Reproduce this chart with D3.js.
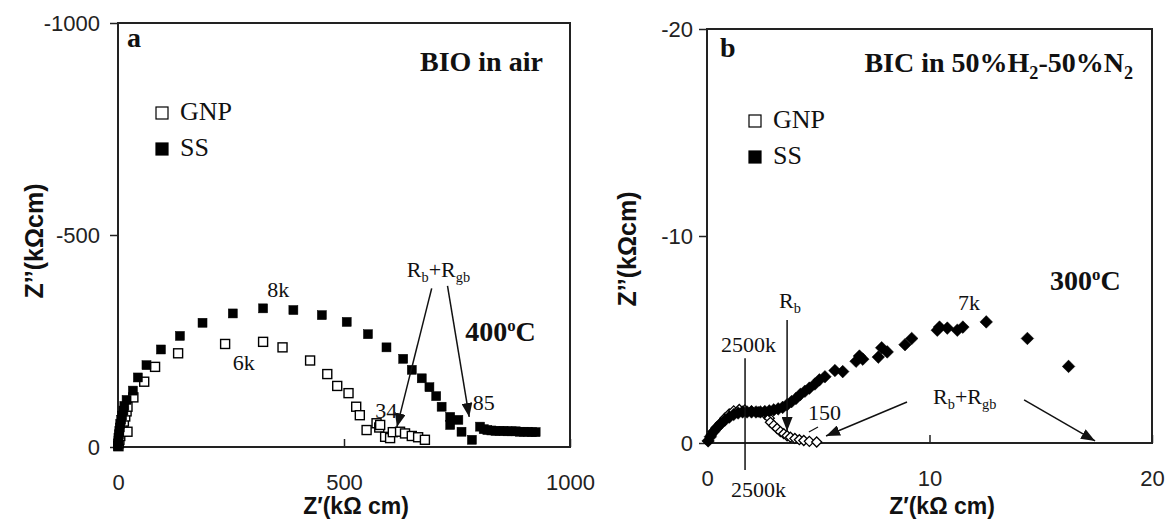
<!DOCTYPE html>
<html>
<head>
    <script src="https://cdnjs.cloudflare.com/ajax/libs/d3/7.8.5/d3.min.js"></script>
    <style>
        body { margin: 0; background: #fff; }
        .tick text { font-family: "Liberation Sans", Arial, sans-serif; font-size: 22px; fill: #222; }
        .tick line { stroke: #222; stroke-width: 1.5; }
        .serif { font-family: "Liberation Serif", "Times New Roman", serif; fill: #111; }
        .title { font-family: "Liberation Sans", Arial, sans-serif; font-weight: bold; fill: #111; }
    </style>
</head>
<body>
    <svg id="chart" width="1168" height="521"></svg>

    <script>
        // ---- panel a: BIO in air, 400 C  (Z' kOhm cm, Z'' kOhm cm) ----
        const aGnp = [
            [1,-2],[2,-9],[3,-17],[5,-26],[7,-36],[10,-47],[13,-60],[16,-72],[19,-84],[21,-95],
            [21,-36],[34,-117],[58,-154],[82,-189],[133,-221],[237,-243],[321,-248],[364,-235],
            [425,-204],[463,-172],[485,-144],[510,-127],[527,-95],[535,-75],[550,-40],[572,-56],
            [578,-46],[580,-52],[591,-24],[602,-21],[608,-35],[624,-36],[635,-32],[650,-26],
            [664,-23],[679,-17]
        ];
        const aSs = [
            [0,-2],[0,-8],[1,-15],[1,-22],[2,-30],[3,-38],[4,-46],[5,-55],[7,-64],[9,-74],
            [12,-86],[14,-97],[19,-111],[33,-133],[44,-164],[63,-193],[95,-230],[137,-262],
            [187,-293],[254,-315],[321,-327],[388,-323],[451,-311],[506,-295],[553,-266],
            [594,-235],[631,-208],[650,-182],[672,-162],[689,-141],[704,-120],[716,-95],
            [735,-71],[735,-52],[753,-64],[760,-36],[783,-17],[801,-48],[809,-42],[817,-40],
            [826,-39],[835,-38],[844,-38],[853,-38],[862,-37],[871,-37],[880,-37],[889,-36],
            [898,-36],[907,-36],[916,-35],[924,-35]
        ];
        const aXTicks = [0, 500, 1000];
        const aYTicks = [0, -500, -1000];

        // ---- panel b: BIC in 50%H2-50%N2, 300 C ----
        const bGnp = [
            [0.05,-0.1],[0.2,-0.4],[0.4,-0.7],[0.6,-0.95],[0.8,-1.2],[1.0,-1.4],[1.2,-1.55],
            [1.45,-1.62],[1.7,-1.6],[2.0,-1.55],[2.3,-1.5],[2.6,-1.4],[2.8,-1.2],[2.85,-1.0],
            [3.0,-0.85],[3.15,-0.7],[3.3,-0.55],[3.45,-0.45],[3.6,-0.35],[3.75,-0.28],
            [3.95,-0.22],[4.15,-0.16],[4.35,-0.12],[4.6,-0.08],[4.93,-0.05]
        ];
        const bSs = [
            [0.05,-0.1],[0.15,-0.3],[0.3,-0.55],[0.45,-0.75],[0.6,-0.9],[0.8,-1.1],[1.0,-1.25],
            [1.2,-1.38],[1.4,-1.45],[1.6,-1.5],[1.8,-1.5],[2.0,-1.5],[2.2,-1.5],[2.4,-1.5],
            [2.6,-1.52],[2.8,-1.55],[3.0,-1.6],[3.2,-1.65],[3.4,-1.72],[3.6,-1.85],[3.8,-2.0],
            [4.0,-2.15],[4.2,-2.35],[4.4,-2.5],[4.6,-2.65],[4.85,-2.85],[5.05,-3.05],[5.3,-3.2],
            [5.75,-3.5],[6.1,-3.45],[6.7,-3.95],[6.85,-4.2],[7.0,-4.05],[7.7,-4.15],[7.85,-4.6],
            [8.1,-4.4],[8.9,-4.75],[9.2,-5.05],[10.35,-5.45],[10.45,-5.6],[10.8,-5.55],
            [11.25,-5.45],[11.5,-5.6],[12.55,-5.85],[14.4,-5.05],[16.25,-3.7]
        ];
        const bXTicks = [0, 10, 20];
        const bYTicks = [0, -10, -20];

        const svg = d3.select("#chart");

        svg.append("defs").append("marker")
            .attr("id", "head")
            .attr("markerUnits", "userSpaceOnUse")
            .attr("markerWidth", 14).attr("markerHeight", 11)
            .attr("refX", 14).attr("refY", 5.5)
            .attr("orient", "auto")
            .append("path")
            .attr("d", "M0,0 L14,5.5 L0,11 Z")
            .attr("fill", "#111");

        function setupPanel(p) {
            const x = d3.scaleLinear().domain(p.xDomain).range(p.xRange);
            const y = d3.scaleLinear().domain(p.yDomain).range(p.yRange);
            const g = svg.append("g");

            // axes
            const ya = g.append("g")
                .attr("transform", `translate(${p.xRange[0]},0)`)
                .call(d3.axisLeft(y).tickValues(p.yTicks).tickSize(8).tickPadding(p.yPad).tickFormat(d => String(d)));
            ya.select(".domain").remove();
            const xa = g.append("g")
                .attr("transform", `translate(0,${p.yRange[0]})`)
                .call(d3.axisBottom(x).tickValues(p.xTicks).tickSize(-8).tickPadding(27).tickFormat(d => String(d)));
            xa.select(".domain").remove();

            // frame
            g.append("rect")
                .attr("x", p.xRange[0]).attr("y", p.yRange[1])
                .attr("width", p.xRange[1] - p.xRange[0])
                .attr("height", p.yRange[0] - p.yRange[1])
                .attr("fill", "none").attr("stroke", "#222").attr("stroke-width", 2);

            // axis titles
            g.append("text").attr("class", "title")
                .attr("x", p.xTitle[0]).attr("y", p.xTitle[1])
                .attr("text-anchor", "middle").attr("font-size", 23)
                .text("Z\u2032(k\u03A9 cm)");
            g.append("text").attr("class", "title")
                .attr("transform", `translate(${p.yTitle[0]},${p.yTitle[1]}) rotate(-90)`)
                .attr("text-anchor", "middle").attr("font-size", 25)
                .text("Z\u2019\u2019(k\u03A9cm)");

            return { g, x, y };
        }

        function squares(ctx, data, filled) {
            ctx.g.append("g").selectAll("rect")
                .data(data).enter().append("rect")
                .attr("x", d => ctx.x(d[0]) - 4.5)
                .attr("y", d => ctx.y(d[1]) - 4.5)
                .attr("width", 9).attr("height", 9)
                .attr("fill", filled ? "#000" : "#fff")
                .attr("stroke", "#000")
                .attr("stroke-width", filled ? 0.5 : 1.4);
        }

        function diamonds(ctx, data, filled) {
            const r = filled ? 6.3 : 5;
            ctx.g.append("g").selectAll("path")
                .data(data).enter().append("path")
                .attr("d", d => {
                    const cx = ctx.x(d[0]), cy = ctx.y(d[1]);
                    return `M${cx},${cy - r}L${cx + r},${cy}L${cx},${cy + r}L${cx - r},${cy}Z`;
                })
                .attr("fill", filled ? "#000" : "#fff")
                .attr("stroke", "#000")
                .attr("stroke-width", filled ? 0.5 : 1.3);
        }

        function label(ctx, pos, parts, opts) {
            const t = ctx.g.append("text").attr("class", "serif")
                .attr("x", ctx.x(pos[0])).attr("y", ctx.y(pos[1]))
                .attr("font-size", opts.size)
                .attr("font-weight", opts.bold ? "bold" : "normal")
                .attr("text-anchor", opts.anchor || "start");
            parts.forEach(pt => {
                const s = t.append("tspan").text(pt.t);
                if (pt.sub) s.attr("font-size", opts.size * 0.65).attr("dy", opts.size * 0.22);
                if (pt.sup) s.attr("font-size", opts.size * 0.6).attr("dy", -opts.size * 0.35);
                if (pt.back) s.attr("dy", pt.back);
            });
        }

        function arrow(ctx, from, to) {
            ctx.g.append("line")
                .attr("x1", ctx.x(from[0])).attr("y1", ctx.y(from[1]))
                .attr("x2", ctx.x(to[0])).attr("y2", ctx.y(to[1]))
                .attr("stroke", "#111").attr("stroke-width", 1.5)
                .attr("marker-end", "url(#head)");
        }

        function legend(ctx, px, py, shape) {
            const items = [["GNP", false], ["SS", true]];
            items.forEach((it, i) => {
                const cy = py + i * 36;
                ctx.g.append("rect")
                    .attr("x", px - 6).attr("y", cy - 6).attr("width", 12).attr("height", 12)
                    .attr("fill", it[1] ? "#000" : "#fff").attr("stroke", "#000").attr("stroke-width", 1.2);
                ctx.g.append("text").attr("class", "serif")
                    .attr("x", px + 18).attr("y", cy + 7 + (i ? 0 : 0))
                    .attr("font-size", 26).text(it[0]);
            });
        }

        // ---------- panel a ----------
        const A = setupPanel({
            xDomain: [0, 1000], xRange: [118, 570],
            yDomain: [0, -1000], yRange: [447, 23],
            xTicks: aXTicks, yTicks: aYTicks, yPad: 10,
            xTitle: [356, 514], yTitle: [43, 241]
        });
        squares(A, aGnp, false);
        squares(A, aSs, true);
        legend(A, 162, 113);
        label(A, [20, -943], [{ t: "a" }], { size: 28, bold: true });
        label(A, [940, -887], [{ t: "BIO in air" }], { size: 28, bold: true, anchor: "end" });
        label(A, [330, -354], [{ t: "8k" }], { size: 22 });
        label(A, [254, -182], [{ t: "6k" }], { size: 22 });
        label(A, [569, -68], [{ t: "34" }], { size: 22 });
        label(A, [785, -87], [{ t: "85" }], { size: 22 });
        label(A, [639, -401], [{ t: "R" }, { t: "b", sub: true }, { t: "+R", back: -22 * 0.22 }, { t: "gb", sub: true }], { size: 22 });
        label(A, [768, -250], [{ t: "400" }, { t: "o", sup: true }, { t: "C", back: 28 * 0.35 }], { size: 28, bold: true });
        arrow(A, [694, -374], [617, -47]);
        arrow(A, [729, -380], [777, -71]);

        // ---------- panel b ----------
        const B = setupPanel({
            xDomain: [0, 20], xRange: [707, 1152],
            yDomain: [0, -20], yRange: [443, 29],
            xTicks: bXTicks, yTicks: bYTicks, yPad: 6,
            xTitle: [942, 514], yTitle: [636, 249]
        });
        diamonds(B, bGnp, false);
        diamonds(B, bSs, true);
        legend(B, 755, 121);
        label(B, [0.58, -18.65], [{ t: "b" }], { size: 28, bold: true });
        label(B, [19.15, -17.9], [
            { t: "BIC in 50%H" }, { t: "2", sub: true }, { t: "-50%N", back: -28 * 0.22 }, { t: "2", sub: true }
        ], { size: 28, bold: true, anchor: "end" });
        label(B, [15.42, -7.39], [{ t: "300" }, { t: "o", sup: true }, { t: "C", back: 28 * 0.35 }], { size: 28, bold: true });
        label(B, [11.28, -6.43], [{ t: "7k" }], { size: 22 });
        label(B, [3.24, -6.5], [{ t: "R" }, { t: "b", sub: true }], { size: 22 });
        label(B, [0.63, -4.4], [{ t: "2500k" }], { size: 22 });
        label(B, [1.08, 2.6], [{ t: "2500k" }], { size: 22 });
        label(B, [4.54, -1.11], [{ t: "150" }], { size: 22 });
        label(B, [10.16, -1.9], [{ t: "R" }, { t: "b", sub: true }, { t: "+R", back: -22 * 0.22 }, { t: "gb", sub: true }], { size: 22 });

        // 2500k marker line
        B.g.append("line")
            .attr("x1", B.x(1.71)).attr("y1", B.y(-4.1))
            .attr("x2", B.x(1.71)).attr("y2", B.y(1.3))
            .attr("stroke", "#111").attr("stroke-width", 1.5);
        // 150 pointer
        B.g.append("line")
            .attr("x1", B.x(4.99)).attr("y1", B.y(-0.77))
            .attr("x2", B.x(4.58)).attr("y2", B.y(-0.53))
            .attr("stroke", "#111").attr("stroke-width", 1.2);
        arrow(B, [3.6, -5.94], [3.6, -0.58]);
        arrow(B, [8.99, -1.98], [5.35, -0.34]);
        arrow(B, [14.25, -2.08], [17.44, -0.1]);
    </script>
</body>
</html>
